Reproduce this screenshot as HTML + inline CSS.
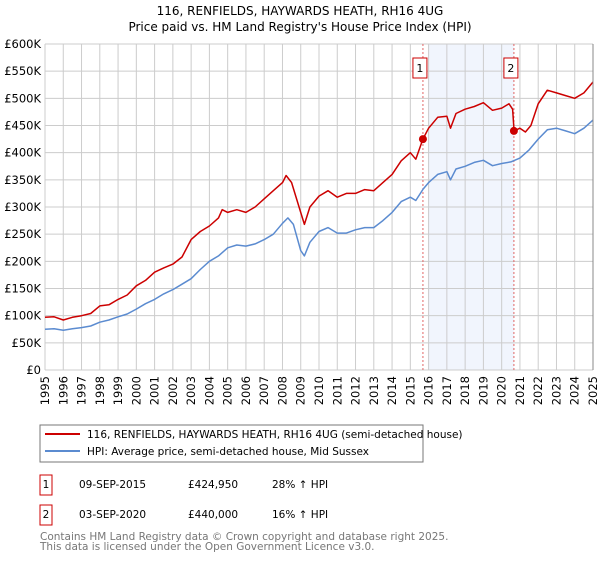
<!DOCTYPE html>
<html><head><meta charset="utf-8"><style>
body{margin:0;background:#fff;font-family:"DejaVu Sans","Liberation Sans",sans-serif;}
text{font-family:"DejaVu Sans","Liberation Sans",sans-serif;}
</style></head><body>
<svg id="chart" width="600" height="560" viewBox="0 0 600 560" xmlns="http://www.w3.org/2000/svg" font-family="DejaVu Sans, Liberation Sans, sans-serif">
<text x="300" y="15" text-anchor="middle" font-size="12">116, RENFIELDS, HAYWARDS HEATH, RH16 4UG</text>
<text x="300" y="31" text-anchor="middle" font-size="12">Price paid vs. HM Land Registry's House Price Index (HPI)</text>
<g id="grid"></g><g id="marks"></g><g id="axes"></g>
<g>
<rect x="40" y="425" width="383" height="37" fill="#fff" stroke="#777"/>
<line x1="45" y1="434" x2="80" y2="434" stroke="#cc0000" stroke-width="2"/>
<text x="87" y="438" font-size="10.5">116, RENFIELDS, HAYWARDS HEATH, RH16 4UG (semi-detached house)</text>
<line x1="45" y1="451" x2="80" y2="451" stroke="#5b8bd0" stroke-width="2"/>
<text x="87" y="455" font-size="10.5">HPI: Average price, semi-detached house, Mid Sussex</text>
</g>
<g font-size="10.5">
<rect x="40" y="475" width="12" height="20" fill="#fff" stroke="#cc0000"/>
<text x="46" y="488" text-anchor="middle">1</text>
<text x="79" y="488">09-SEP-2015</text><text x="188" y="488">£424,950</text><text x="272" y="488">28% ↑ HPI</text>
</g>
<g font-size="10.5">
<rect x="40" y="505" width="12" height="20" fill="#fff" stroke="#cc0000"/>
<text x="46" y="518" text-anchor="middle">2</text>
<text x="79" y="518">03-SEP-2020</text><text x="188" y="518">£440,000</text><text x="272" y="518">16% ↑ HPI</text>
</g>
<text x="40" y="540" font-size="10.5" fill="#777">Contains HM Land Registry data © Crown copyright and database right 2025.</text>
<text x="40" y="550" font-size="10.5" fill="#777">This data is licensed under the Open Government Licence v3.0.</text>
</svg>
<script>
const hpiYears=[1995,1995.5,1996,1996.5,1997,1997.5,1998,1998.5,1999,1999.5,2000,2000.5,2001,2001.5,2002,2002.5,2003,2003.5,2004,2004.5,2005,2005.5,2006,2006.5,2007,2007.5,2008,2008.3,2008.6,2009,2009.2,2009.5,2010,2010.5,2011,2011.5,2012,2012.5,2013,2013.5,2014,2014.5,2015,2015.3,2015.7,2016,2016.5,2017,2017.2,2017.5,2018,2018.5,2019,2019.5,2020,2020.5,2021,2021.5,2022,2022.5,2023,2023.5,2024,2024.5,2025];
const hpiValues=[75,76,73,76,78,81,88,92,98,103,112,122,130,140,148,158,168,185,200,210,225,230,228,232,240,250,270,280,268,220,210,235,255,262,252,252,258,262,262,275,290,310,318,312,333,345,360,365,350,370,375,382,386,376,380,383,390,405,425,442,445,440,435,445,460];
const priceYears=[1995,1995.5,1996,1996.5,1997,1997.5,1998,1998.5,1999,1999.5,2000,2000.5,2001,2001.5,2002,2002.5,2003,2003.5,2004,2004.5,2004.7,2005,2005.5,2006,2006.5,2007,2007.5,2008,2008.2,2008.5,2009,2009.2,2009.5,2010,2010.5,2011,2011.5,2012,2012.5,2013,2013.5,2014,2014.5,2015,2015.3,2015.69,2016,2016.5,2017,2017.2,2017.5,2018,2018.5,2019,2019.5,2020,2020.4,2020.6,2020.68,2021,2021.3,2021.6,2022,2022.5,2023,2023.5,2024,2024.5,2025];
const priceValues=[97,98,92,97,100,104,118,120,130,138,155,165,180,188,195,208,240,255,265,280,295,290,295,290,300,315,330,345,358,345,290,268,300,320,330,318,325,325,332,330,345,360,385,400,388,425,445,465,467,445,472,480,485,492,478,482,490,480,440,445,438,450,490,515,510,505,500,510,530];
const sales=[{n:"1",t:2015.69,v:424.95},{n:"2",t:2020.67,v:440}];
const yTicks=[0,50,100,150,200,250,300,350,400,450,500,550,600];
const yTickLabels=["£0","£50K","£100K","£150K","£200K","£250K","£300K","£350K","£400K","£450K","£500K","£550K","£600K"];
const xTicks=[1995,1996,1997,1998,1999,2000,2001,2002,2003,2004,2005,2006,2007,2008,2009,2010,2011,2012,2013,2014,2015,2016,2017,2018,2019,2020,2021,2022,2023,2024,2025];
const NS="http://www.w3.org/2000/svg";
const L=45,R=593,T=44,B=370;
const xs=t=>L+(t-1995)/30*(R-L);
const ys=v=>B-v/600*(B-T);
function mk(tag,attrs,parent){const e=document.createElementNS(NS,tag);for(const k in attrs)e.setAttribute(k,attrs[k]);document.getElementById(parent).appendChild(e);return e;}
let sh=mk("rect",{x:xs(sales[0].t)+5,y:T,width:xs(sales[1].t)-xs(sales[0].t)-5,height:B-T,fill:"#eef3fc",opacity:0.8},"grid");


yTicks.forEach((v,i)=>{
 let g=mk("line",{x1:L,x2:R,y1:ys(v),y2:ys(v),stroke:"#cccccc","stroke-width":1},"grid");
 
 
 let t=mk("text",{x:L-4,y:ys(v)+4,"text-anchor":"end","font-size":11.5},"axes");
 
 
 t.textContent=yTickLabels[i];
});
xTicks.forEach(yr=>{
 let g=mk("line",{x1:xs(yr),x2:xs(yr),y1:T,y2:B,stroke:"#cccccc","stroke-width":1},"grid");
 
 
 const px=xs(yr)+4, py=B+6;
 let t=mk("text",{x:px,y:py,"text-anchor":"end","font-size":11.5,transform:"rotate(-90 "+px+" "+py+")"},"axes");
 
 
 t.textContent=yr;
});
sales.forEach(s=>{
 let d=mk("line",{x1:xs(s.t),x2:xs(s.t),y1:T,y2:B,stroke:"#e06666","stroke-width":1,"stroke-dasharray":"2,2"},"marks");
 
 
 let b=mk("rect",{x:xs(s.t)-10,y:58,width:14,height:20,fill:"#fff",stroke:"#cc0000"},"marks");
 
 
 let tx=mk("text",{x:xs(s.t)-3,y:72,"text-anchor":"middle","font-size":11},"marks");
 
 
 tx.textContent=s.n;
});
function line(xsArr,vals,color,name){
 const p=mk("path",{d:xsArr.map((t,i)=>(i?"L":"M")+xs(t).toFixed(1)+","+ys(vals[i]).toFixed(1)).join(""),fill:"none",stroke:color,"stroke-width":1.5,"stroke-linejoin":"round"},"marks");
 
 
}
line(hpiYears,hpiValues,"#5b8bd0","hpi-line");
line(priceYears,priceValues,"#cc0000","price-paid-line");
sales.forEach(s=>{
 let c=mk("circle",{cx:xs(s.t),cy:ys(s.v),r:4,fill:"#cc0000"},"marks");
 
 
});
let ax=mk("line",{x1:R,x2:R,y1:T,y2:B,stroke:"#888"},"axes");


</script>
</body></html>
